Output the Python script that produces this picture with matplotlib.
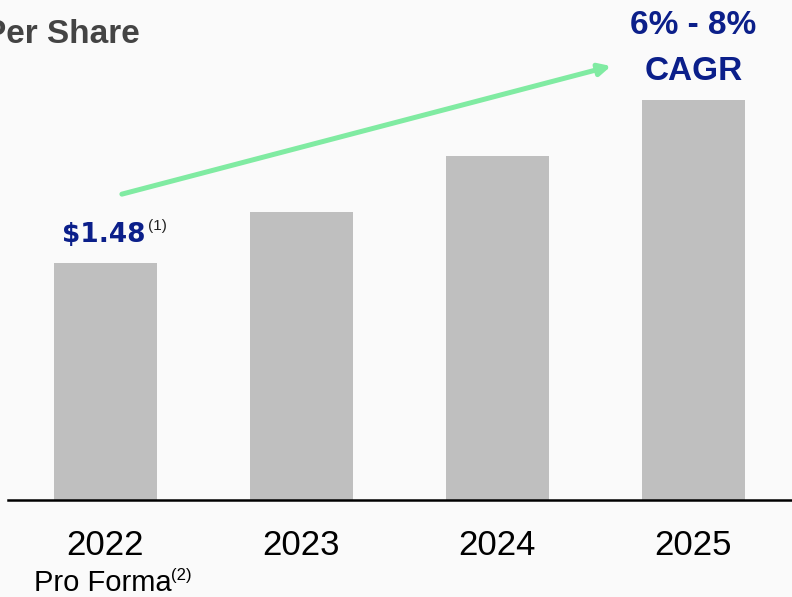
import matplotlib.pyplot as plt
import matplotlib.transforms as mtransforms

years = ['2022', '2023', '2024', '2025']
eps = [1.48, 1.80, 2.15, 2.50]
first_label = '$1.48'
cagr_label = '6% - 8%\nCAGR'

navy = '#0b1f8a'
bar_c = '#bfbfbf'
bg = '#fafafa'
fam = ['Liberation Sans', 'DejaVu Sans']

fig = plt.figure(figsize=(7.92, 5.97), dpi=100, facecolor=bg)
ax = fig.add_axes([0.0101, 0.1625, 0.9899, 0.8375], facecolor=bg)
x = list(range(len(years)))
ax.bar(x, eps, width=0.525, color=bar_c, zorder=2)
ax.set_xlim(-0.497, 3.503)
ax.set_ylim(0, 3.1225)
for s in ['top', 'right', 'left']:
    ax.spines[s].set_visible(False)
ax.spines['bottom'].set_linewidth(1.8)
ax.spines['bottom'].set_color('black')
ax.set_yticks([])
ax.set_xticks([])

trans = mtransforms.blended_transform_factory(ax.transData, ax.transAxes)
for i, y in enumerate(years):
    ax.text(i, -0.11, y, transform=trans, ha='center', va='baseline',
            fontsize=25, family=fam, clip_on=False)
ax.text(-0.365, -0.182, 'Pro Forma', transform=trans, ha='left', va='baseline',
        fontsize=21, family=fam, clip_on=False)
ax.text(0.335, -0.16, '(2)', transform=trans, ha='left', va='baseline',
        fontsize=12, family=fam, clip_on=False)

# value label on first bar
ax.text(-0.01, eps[0] + 0.131, first_label, ha='center', va='baseline',
        fontsize=19, fontweight='bold', color=navy, family='DejaVu Sans')
ax.text(0.215, eps[0] + 0.205, '(1)', ha='left', va='baseline',
        fontsize=11, color='#222222', family=fam)

# CAGR label and arrow
ax.text(3.0, eps[3] + 0.123, cagr_label, ha='center', va='baseline',
        fontsize=24, fontweight='bold', color=navy, family=fam,
        linespacing=1.62)
ax.annotate('', xy=(2.58, eps[3] + 0.21), xytext=(0.084, eps[0] + 0.43),
            arrowprops=dict(arrowstyle='-|>,head_length=0.7,head_width=0.35',
                            color='#80eba2', lw=3.6, shrinkA=0, shrinkB=0))

# partially cropped title
fig.text(0.177, 1 - 43 / 597, 'Per Share', ha='right', va='baseline', fontsize=24,
         fontweight='bold', color='#444444', family=fam)

fig.savefig('out.png', dpi=100, facecolor=bg)
